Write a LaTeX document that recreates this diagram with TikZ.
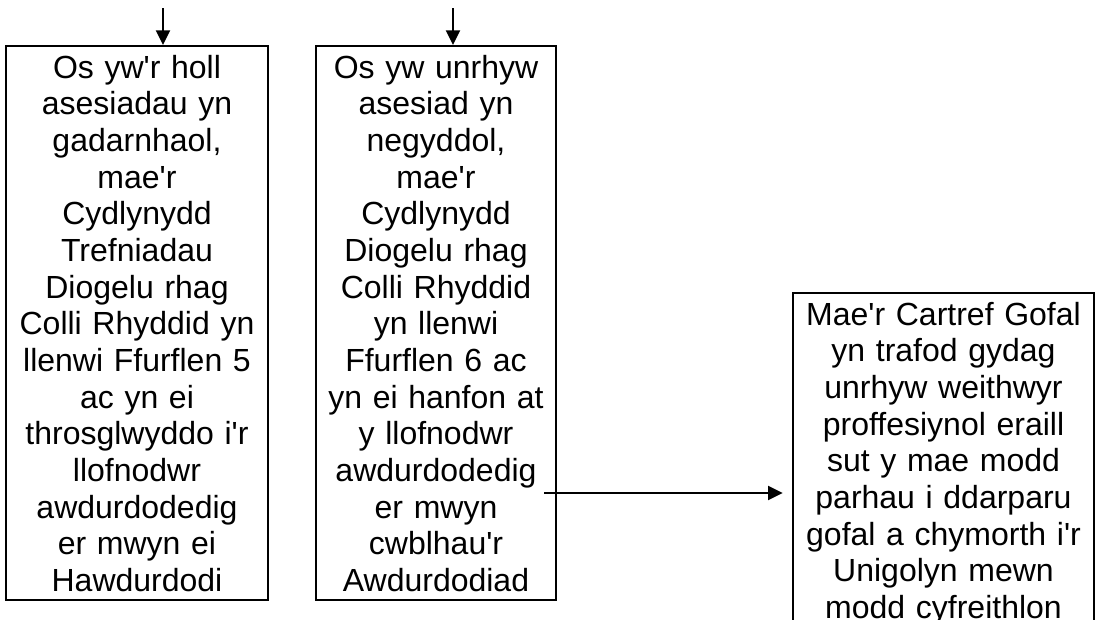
\documentclass[tikz,border=0pt]{standalone}
\usepackage{fontspec}
\setmainfont{Liberation Sans}[Ligatures=TeXOff]
\usetikzlibrary{arrows.meta}
\begin{document}
\begin{tikzpicture}[x=0.75pt,y=-0.75pt,
  box/.style={draw, line width=1.5pt, inner sep=0pt, align=center, anchor=north west,
    font=\fontsize{24}{27.5}\selectfont},
  arr/.style={line width=1.5pt, -{Triangle[length=11pt,width=10.5pt]}}]
\useasboundingbox (0,0) rectangle (1096,619);
\clip (0,0) rectangle (1096,619);
\node[box, text width=196.5pt] (b1) at (5,45) {\rule{0pt}{24pt}Os yw'r holl\\asesiadau yn\\gadarnhaol,\\mae'r\\Cydlynydd\\Trefniadau\\Diogelu rhag\\Colli Rhyddid yn\\llenwi Ffurflen 5\\ac yn ei\\throsglwyddo i'r\\llofnodwr\\awdurdodedig\\er mwyn ei\\Hawdurdodi\rule[-6.15pt]{0pt}{6.15pt}};
\node[box, text width=180pt] (b2) at (315,45) {\rule{0pt}{24pt}Os yw unrhyw\\asesiad yn\\negyddol,\\mae'r\\Cydlynydd\\Diogelu rhag\\Colli Rhyddid\\yn llenwi\\Ffurflen 6 ac\\yn ei hanfon at\\y llofnodwr\\awdurdodedig\\er mwyn\\cwblhau'r\\Awdurdodiad\rule[-6.15pt]{0pt}{6.15pt}};
\node[box, text width=225.75pt] (b3) at (792,292) {\rule{0pt}{24pt}Mae'r Cartref Gofal\\yn trafod gydag\\unrhyw weithwyr\\proffesiynol eraill\\sut y mae modd\\parhau i ddarparu\\gofal a chymorth i'r\\Unigolyn mewn\\modd cyfreithlon\rule[-20pt]{0pt}{20pt}};
\coordinate (t1) at (163,8);
\coordinate (t2) at (453,8);
\coordinate (h) at (544,493);
\draw[arr] (t1) -- (t1 |- b1.north);
\draw[arr] (t2) -- (t2 |- b2.north);
\draw[arr, shorten >=7pt] (h) -- (h -| b3.west);
\end{tikzpicture}
\end{document}
